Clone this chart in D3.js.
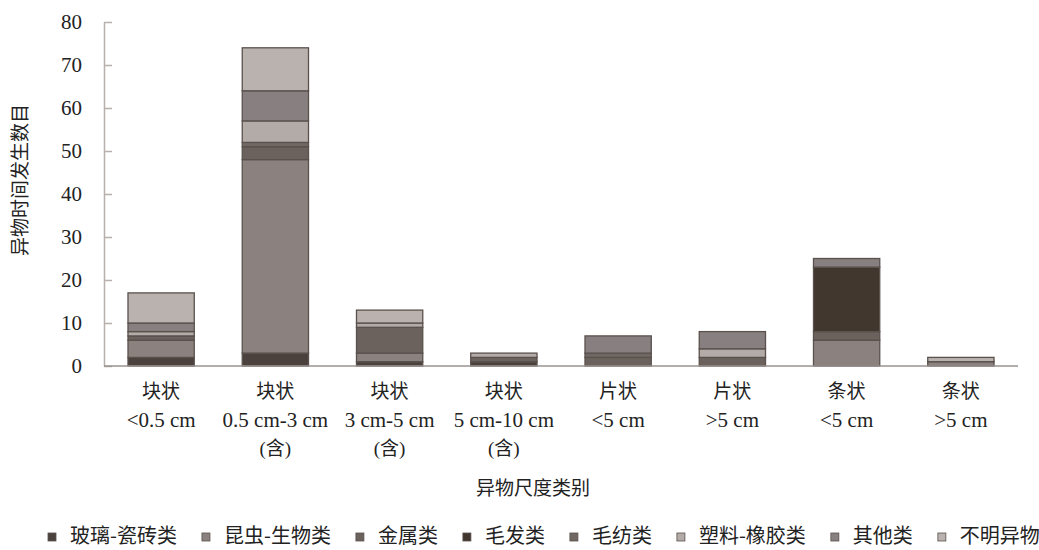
<!DOCTYPE html>
<html lang="zh">
<head>
<meta charset="utf-8">
<script src="https://d3js.org/d3.v7.min.js"></script>
<style>
  body { margin: 0; background: #fff; }
  svg { font-family: "Liberation Serif", "Noto Sans CJK SC", serif; }
</style>
</head>
<body>
<div id="chart"></div>
<script>
// categories (x axis), one label line per entry
var categories = [
  ["块状", "<0.5 cm"],
  ["块状", "0.5 cm-3 cm", "(含)"],
  ["块状", "3 cm-5 cm", "(含)"],
  ["块状", "5 cm-10 cm", "(含)"],
  ["片状", "<5 cm"],
  ["片状", ">5 cm"],
  ["条状", "<5 cm"],
  ["条状", ">5 cm"]
];

// series, bottom to top
var seriesNames = ["玻璃-瓷砖类", "昆虫-生物类", "金属类", "毛发类", "毛纺类", "塑料-橡胶类", "其他类", "不明异物"];
var glass   = [2,  3, 1, 1, 0, 0,  0, 0];
var insect  = [4, 45, 2, 0, 0, 0,  6, 1];
var metal   = [1,  3, 6, 1, 2, 2,  2, 0];
var hair    = [0,  0, 0, 0, 0, 0, 15, 0];
var wool    = [0,  1, 0, 0, 1, 0,  0, 0];
var plastic = [1,  5, 1, 1, 0, 2,  0, 0];
var other   = [2,  7, 0, 0, 4, 4,  2, 0];
var unknown = [7, 10, 3, 0, 0, 0,  0, 1];
var yTicks = [0, 10, 20, 30, 40, 50, 60, 70, 80];

var colors = ["#4b423e", "#8b827f", "#6b625e", "#41372f", "#716864", "#b3aba8", "#888080", "#bab2ae"];

var seriesValues = [glass, insect, metal, hair, wool, plastic, other, unknown];
var rows = categories.map(function(c, i) {
  var r = {idx: i};
  seriesNames.forEach(function(s, j) { r[s] = seriesValues[j][i]; });
  return r;
});
var stacked = d3.stack().keys(seriesNames)(rows);

var W = 1039, H = 550;
var svg = d3.select("#chart").append("svg")
  .attr("width", W).attr("height", H);

var x = d3.scaleBand()
  .domain(d3.range(categories.length))
  .range([104, 1018])
  .paddingInner(0.42)
  .paddingOuter(0.21);

var y = d3.scaleLinear().domain([0, 80]).range([366, 22]);

// bars
svg.append("g").selectAll("g")
  .data(stacked)
  .join("g")
    .attr("fill", function(d, i) { return colors[i]; })
  .selectAll("rect")
  .data(function(d) { return d.filter(function(v) { return v[1] - v[0] > 0; }); })
  .join("rect")
    .attr("x", function(d) { return x(d.data.idx); })
    .attr("y", function(d) { return y(d[1]); })
    .attr("width", x.bandwidth())
    .attr("height", function(d) { return y(d[0]) - y(d[1]); })
    .attr("stroke", "#5a514d")
    .attr("stroke-width", 1.3);

// y axis
var yAxis = svg.append("g")
  .attr("transform", "translate(104,0)")
  .call(d3.axisLeft(y).tickValues(yTicks).tickSizeInner(-8).tickSizeOuter(0).tickPadding(22));
yAxis.select(".domain").attr("stroke", "#b8b0ad").attr("stroke-width", 1.5);
yAxis.selectAll(".tick line").attr("stroke", "#b8b0ad").attr("stroke-width", 1.5);
yAxis.selectAll(".tick text")
  .attr("font-size", 21).attr("fill", "#222")
  .attr("font-family", "Liberation Serif");

// x axis line
svg.append("line")
  .attr("x1", 104).attr("x2", 1018)
  .attr("y1", y(0)).attr("y2", y(0))
  .attr("stroke", "#9a928f").attr("stroke-width", 1.5);

// x tick labels
var xl = svg.append("g").selectAll("text")
  .data(categories)
  .join("text")
    .attr("text-anchor", "middle")
    .attr("fill", "#222");
xl.each(function(lines, i) {
  var t = d3.select(this);
  lines.forEach(function(s, k) {
    t.append("tspan")
      .attr("x", x(i) + x.bandwidth() / 2)
      .attr("y", 398 + k * 28.5)
      .attr("font-size", k == 1 ? 21 : 19)
      .text(s);
  });
});

// axis titles
svg.append("text")
  .attr("transform", "translate(27,180) rotate(-90)")
  .attr("text-anchor", "middle")
  .attr("font-size", 19)
  .attr("font-family", "Noto Sans CJK SC")
  .attr("fill", "#222")
  .text("异物时间发生数目");

svg.append("text")
  .attr("x", 533).attr("y", 495)
  .attr("text-anchor", "middle")
  .attr("font-size", 19)
  .attr("font-family", "Noto Sans CJK SC")
  .attr("fill", "#222")
  .text("异物尺度类别");

// legend
var lg = svg.append("g");
var lx = 48;
seriesNames.forEach(function(s, i) {
  var g = lg.append("g").attr("transform", "translate(" + lx + ",0)");
  g.append("rect")
    .attr("x", 0).attr("y", 533).attr("width", 8).attr("height", 8)
    .attr("fill", colors[i]).attr("stroke", "#5a514d").attr("stroke-width", 0.8);
  var t = g.append("text")
    .attr("x", 22).attr("y", 543)
    .attr("font-size", 20)
    .attr("font-family", "Noto Sans CJK SC")
    .attr("fill", "#222")
    .text(s);
  lx += 22 + t.node().getComputedTextLength() + 25;
});
</script>
</body>
</html>
